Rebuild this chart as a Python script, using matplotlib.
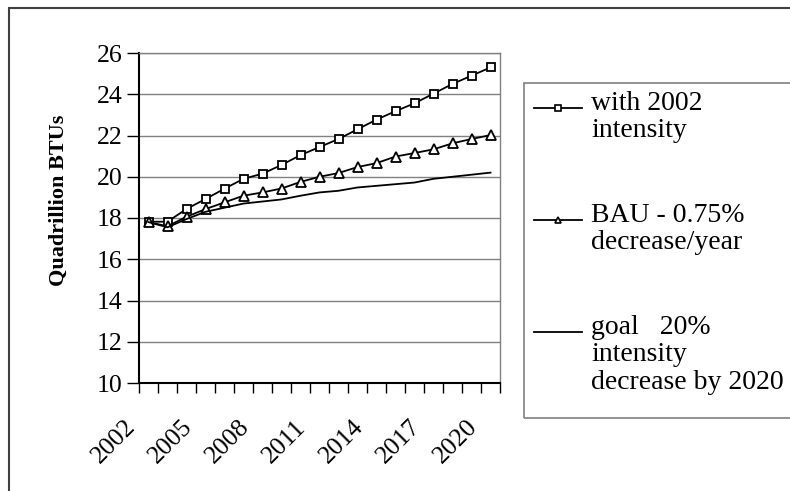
import numpy as np
import matplotlib
matplotlib.use("Agg")
import matplotlib.pyplot as plt
import matplotlib.transforms as mtransforms
from matplotlib.lines import Line2D
from matplotlib.patches import Rectangle

plt.rcParams['font.family'] = ['Liberation Serif', 'DejaVu Serif']

# data
years = list(range(2002, 2021))
with_2002 = [17.82, 17.82, 18.44, 18.92, 19.42, 19.90, 20.15, 20.57, 21.05, 21.44,
             21.83, 22.30, 22.77, 23.18, 23.56, 24.03, 24.50, 24.90, 25.30]
bau = [17.80, 17.60, 18.06, 18.43, 18.76, 19.08, 19.24, 19.43, 19.75, 20.00,
       20.18, 20.47, 20.66, 20.98, 21.15, 21.33, 21.62, 21.83, 22.02]
goal = [17.80, 17.55, 17.95, 18.30, 18.50, 18.70, 18.80, 18.90, 19.08, 19.24,
        19.32, 19.48, 19.56, 19.64, 19.72, 19.90, 20.00, 20.10, 20.20]
labels = ["with 2002\nintensity", "BAU - 0.75%\ndecrease/year",
          "goal   20%\nintensity\ndecrease by 2020"]
yticks = [10, 12, 14, 16, 18, 20, 22, 24, 26]

W, H = 790, 491
fig = plt.figure(figsize=(W/100, H/100), dpi=100)

def fx(px):
    return px / W

def fy(py):
    return 1 - py / H

# plot area
ax = fig.add_axes([fx(139), fy(383), fx(500) - fx(139), fy(53) - fy(383)])
x = np.arange(len(years))
ax.plot(x, with_2002, color='black', lw=1.3, marker='s', ms=5.5, mfc='white', mec='black', mew=1.3)
ax.plot(x, bau, color='black', lw=1.3, marker='^', ms=6.5, mfc='white', mec='black', mew=1.3)
ax.plot(x, goal, color='black', lw=1.3)

ax.set_ylim(10, 26)
ax.set_yticks(yticks)
ax.set_xlim(-0.5, len(years) - 0.5)
ax.set_xticks(np.arange(-0.5, len(years), 1.0))
ax.set_xticklabels([])
ax.set_xticks(x[::3], minor=True)
ax.set_xticklabels([str(y) for y in years[::3]], minor=True, rotation=45,
                   ha='right', va='top', rotation_mode='anchor', fontsize=18.5)
ax.tick_params(axis='x', which='minor', length=0, pad=23.8)
ax.tick_params(axis='x', which='major', length=7, width=1, direction='out')
ax.tick_params(axis='y', length=9, width=1, direction='out', labelsize=18.5, pad=3)
# shift the rotated year labels left, as in the reference
shift = mtransforms.ScaledTranslation(-24.5 / 100, 0, fig.dpi_scale_trans)
for lab in ax.get_xticklabels(minor=True):
    lab.set_transform(lab.get_transform() + shift)
ax.grid(axis='y', color='#808080', lw=1)
ax.set_axisbelow(True)
for s in ['top', 'right']:
    ax.spines[s].set_color('#808080')
    ax.spines[s].set_linewidth(1)
for s in ['left', 'bottom']:
    ax.spines[s].set_color('black')
    ax.spines[s].set_linewidth(1.5)

fig.text(fx(59), fy(200), "Quadrillion BTUs", rotation=90, ha='center', va='center',
         fontsize=16, fontweight='bold')

# chart frame
fig.add_artist(Rectangle((fx(9), fy(520)), fx(820), fy(8) - fy(520), transform=fig.transFigure,
                         fill=False, ec='#404040', lw=1.5))

# legend box drawn by hand (Excel style: handle next to the first line)
fig.add_artist(Rectangle((fx(524), fy(418)), fx(300), fy(83) - fy(418), transform=fig.transFigure,
                         fill=False, ec='#808080', lw=1.2))
entry_y = [108, 220, 332]
markers = ['s', '^', None]
for lab, ey, mk in zip(labels, entry_y, markers):
    fig.add_artist(Line2D([fx(534), fx(582)], [fy(ey), fy(ey)], transform=fig.transFigure,
                          color='black', lw=1.3))
    if mk:
        fig.add_artist(Line2D([fx(558)], [fy(ey)], transform=fig.transFigure, marker=mk,
                              ms=4, mfc='white', mec='black', mew=1.2, lw=0))
    fig.text(fx(591), fy(ey - 17), lab, ha='left', va='top', fontsize=20, linespacing=1.13)

fig.savefig("out.png", dpi=100)
